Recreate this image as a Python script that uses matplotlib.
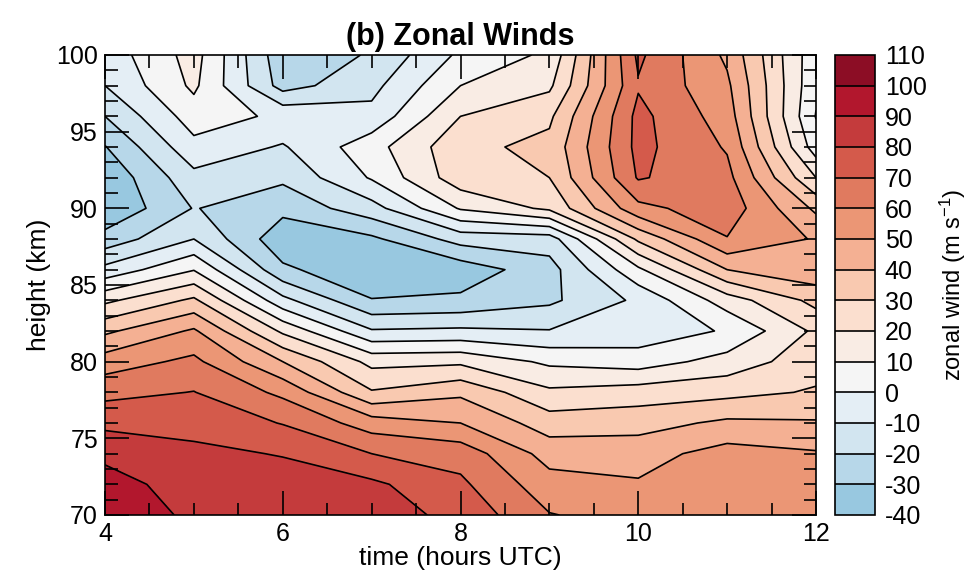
import numpy as np
import matplotlib
matplotlib.use("Agg")
import matplotlib.pyplot as plt
from matplotlib.ticker import MultipleLocator

plt.rcParams['font.family'] = ['Liberation Sans', 'DejaVu Sans']
plt.rcParams['mathtext.fontset'] = 'custom'
plt.rcParams['mathtext.rm'] = 'Liberation Sans'
plt.rcParams['mathtext.default'] = 'regular'
plt.rcParams['axes.unicode_minus'] = False
plt.rcParams['contour.negative_linestyle'] = 'solid'

# ---- data ----
times = [4, 5, 6, 7, 8, 9, 10, 11, 12]          # hours UTC
heights = [70, 72, 74, 76, 78, 80, 82, 84, 86, 88, 90, 92, 94, 96, 98, 100]  # km

# zonal wind (m/s), one row per height
u_70  = [97, 88, 87, 85, 77, 60.5, 56, 56, 56]
u_72  = [94, 85.5, 84, 82, 72, 54, 51, 57, 55]
u_74  = [87.7, 82, 79.5, 70, 66, 46, 46, 54, 51]
u_76  = [77.5, 77, 69.5, 55, 50, 35, 36, 42, 41]
u_78  = [67, 70.3, 57.7, 31, 38, 22, 25, 27, 31]
u_80  = [55, 62.4, 40, 17, 18, 8, 5, 14, 26]
u_82  = [38, 51.5, 18, -9, -8, -9.5, -6, 1, 22]
u_84  = [17.8, 32, -7, -29.5, -28, -22, -8, 15, 33]
u_86  = [-7, 9.5, -28, -38, -36, -24, 8, 40, 47]
u_88  = [-26, -10, -37, -32, -16, -15, 32, 59.5, 49]
u_90  = [-39, -19.5, -27, -14, 11, 22, 57, 66, 38]
u_92  = [-38, -13, -18, 1, 26, 30, 71, 63, 20]
u_94  = [-30.5, -3, -11, 6, 27, 33, 73, 59, 5]
u_96  = [-20, 5, -2, -7, 20, 28, 73, 55, -0.5]
u_98  = [-10, 12, -24, -13, 10, 18, 69, 52, 2]
u_100 = [-6, 14, -27, -19, 2, 12, 72, 48, 3]

levels = [-40, -30, -20, -10, 0, 10, 20, 30, 40, 50, 60, 70, 80, 90, 100, 110]
colors = ['#98c8e0', '#b7d7e9', '#d2e5f0', '#e4eef5', '#f5f5f5',
          '#f9ece4', '#fbdfcf', '#f9c9b0', '#f4b093', '#eb9675',
          '#e07a5f', '#d45a4b', '#c43b3c', '#b2172d', '#8c0d25']

Z = np.array([u_70, u_72, u_74, u_76, u_78, u_80, u_82, u_84, u_86,
              u_88, u_90, u_92, u_94, u_96, u_98, u_100])

fig = plt.figure(figsize=(9.8, 5.77), dpi=100)
ax = fig.add_axes([105/980, 1-515/577, (816-105)/980, (515-55)/577])
cax = fig.add_axes([835/980, 1-515/577, 40/980, (515-55)/577])

cf = ax.contourf(times, heights, Z, levels=levels, colors=colors)
ax.contour(times, heights, Z, levels=levels, colors='k', linewidths=1.2,
           linestyles='solid')

ax.set_xlim(4, 12)
ax.set_ylim(70, 100)
ax.xaxis.set_major_locator(MultipleLocator(2))
ax.xaxis.set_minor_locator(MultipleLocator(0.5))
ax.yaxis.set_major_locator(MultipleLocator(5))
ax.yaxis.set_minor_locator(MultipleLocator(1))
ax.tick_params(which='both', direction='in', top=True, right=True,
               labelsize=18, width=1.2, pad=5)
ax.tick_params(which='major', length=17)
ax.tick_params(which='minor', length=9)
for s in ax.spines.values():
    s.set_linewidth(1.2)

ax.set_xlabel('time (hours UTC)', fontsize=19, labelpad=0)
ax.set_ylabel('height (km)', fontsize=19, labelpad=4)
ax.set_title('(b) Zonal Winds', fontsize=22, fontweight='bold', pad=7)

cb = fig.colorbar(cf, cax=cax, ticks=levels, drawedges=True)
cb.outline.set_linewidth(1.2)
cb.dividers.set_linewidth(1.2)
cb.ax.tick_params(length=0, labelsize=18, pad=7)
cb.set_label('zonal wind (m s$^{-1}$)', fontsize=17, labelpad=8)

fig.savefig('out.png', dpi=100)
